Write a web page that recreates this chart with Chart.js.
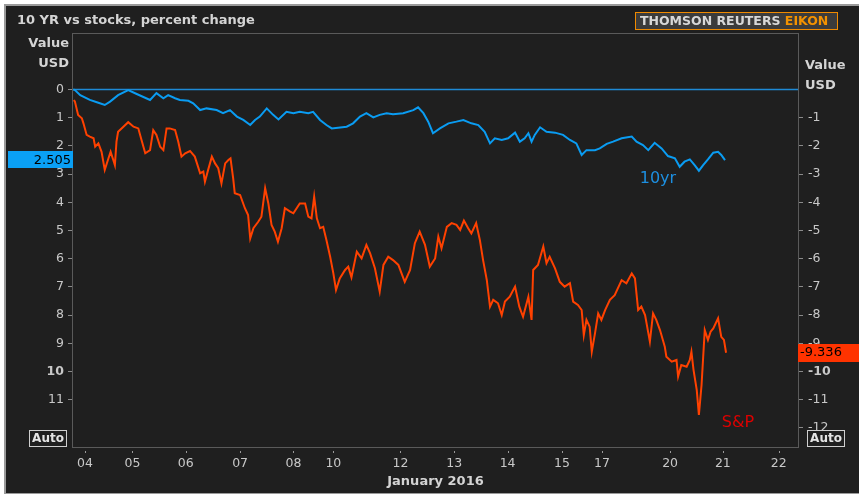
<!DOCTYPE html>
<html>
<head>
<meta charset="utf-8">
<script src="https://cdn.jsdelivr.net/npm/chart.js@4.4.1/dist/chart.umd.min.js"></script>
<style>
  html, body { margin: 0; padding: 0; background: #fff; overflow: hidden; }
  canvas { display: block; }
</style>
</head>
<body>
<canvas id="grafico" width="859" height="496"></canvas>
<script>
// eje x: posicion de cada sesion (en dias de negociacion) y su etiqueta
const dayLabels = ['04','05','06','07','08','10','12','13','14','15','17','20','21','22'];
const dayPos = [0.10, 0.99, 1.99, 3.01, 4.01, 4.76, 6.02, 7.03, 8.03, 9.05, 9.80, 11.08, 12.07, 13.12];

const leftTicks = [0,1,2,3,4,5,6,7,8,9,10,11];
const rightTicks = [-1,-2,-3,-4,-5,-6,-7,-8,-9,-10,-11,-12];

// 10yr (eje izquierdo, invertido)
const tenYrTime = [-0.12,-0.09,0.01,0.19,0.35,0.47,0.57,0.72,0.91,1.07,1.32,1.44,1.57,1.66,1.79,1.88,2.04,2.13,2.26,2.38,
  2.57,2.69,2.82,2.95,3.07,3.20,3.29,3.38,3.51,3.63,3.73,3.88,4.01,4.13,4.29,4.38,4.51,4.63,4.73,5.01,
  5.13,5.26,5.38,5.51,5.63,5.76,5.88,6.07,6.26,6.35,6.45,6.54,6.63,6.76,6.92,7.07,7.20,7.35,7.48,7.60,
  7.70,7.79,7.92,8.04,8.17,8.26,8.35,8.42,8.48,8.54,8.64,8.76,8.92,9.07,9.20,9.32,9.42,9.51,9.67,9.76,
  9.89,10.01,10.17,10.36,10.45,10.57,10.67,10.79,10.92,11.04,11.17,11.26,11.35,11.45,11.54,11.62,11.70,11.79,11.89,11.98,
  12.04,12.11];
const tenYrValues = [0,0.02,0.20,0.37,0.47,0.55,0.43,0.20,0.02,0.16,0.37,0.13,0.31,0.20,0.31,0.37,0.40,0.49,0.73,0.67,
  0.73,0.84,0.73,0.96,1.08,1.26,1.08,0.96,0.67,0.90,1.06,0.79,0.84,0.79,0.84,0.79,1.08,1.26,1.38,1.32,
  1.20,0.96,0.84,0.99,0.90,0.84,0.88,0.84,0.73,0.63,0.84,1.14,1.55,1.38,1.20,1.14,1.08,1.20,1.26,1.50,
  1.91,1.73,1.79,1.73,1.53,1.85,1.73,1.55,1.85,1.61,1.34,1.50,1.53,1.61,1.79,1.91,2.32,2.15,2.15,2.09,
  1.93,1.85,1.73,1.67,1.85,1.97,2.15,1.89,2.09,2.36,2.44,2.74,2.56,2.48,2.68,2.88,2.68,2.48,2.24,2.21,
  2.32,2.505];

// S&P (eje derecho)
const spTime = [-0.11,-0.09,-0.03,0.04,0.07,0.13,0.19,0.26,0.29,0.35,0.41,0.47,0.54,0.58,0.63,0.66,0.69,0.72,0.82,0.91,
  1.01,1.10,1.16,1.23,1.32,1.38,1.44,1.51,1.57,1.63,1.69,1.79,1.85,1.91,1.98,2.07,2.16,2.26,2.32,2.35,
  2.41,2.48,2.54,2.60,2.66,2.73,2.79,2.83,2.88,2.91,3.01,3.10,3.16,3.20,3.26,3.35,3.41,3.48,3.54,3.60,
  3.66,3.72,3.79,3.85,3.95,4.01,4.13,4.23,4.29,4.35,4.40,4.45,4.51,4.57,4.63,4.70,4.76,4.81,4.88,4.98,
  5.04,5.10,5.20,5.29,5.38,5.45,5.54,5.63,5.70,5.79,5.88,5.98,6.10,6.20,6.29,6.38,6.48,6.57,6.67,6.73,
  6.79,6.89,6.98,7.07,7.14,7.21,7.29,7.35,7.44,7.51,7.57,7.64,7.70,7.76,7.85,7.92,7.98,8.07,8.17,8.25,
  8.32,8.42,8.48,8.51,8.60,8.70,8.76,8.82,8.92,9.01,9.10,9.20,9.26,9.35,9.42,9.46,9.51,9.57,9.61,9.67,
  9.73,9.79,9.86,9.95,10.04,10.17,10.26,10.36,10.42,10.48,10.54,10.61,10.70,10.76,10.82,10.89,10.98,11.01,11.11,11.20,
  11.23,11.29,11.39,11.45,11.48,11.52,11.58,11.62,11.67,11.73,11.79,11.84,11.89,11.98,12.04,12.09,12.13];
const spValues = [-0.37,-0.43,-0.90,-1.02,-1.20,-1.61,-1.67,-1.73,-2.03,-1.91,-2.21,-2.85,-2.44,-2.21,-2.50,-2.68,-1.85,-1.50,-1.32,-1.16,
  -1.32,-1.38,-1.79,-2.26,-2.15,-1.44,-1.61,-2.03,-2.15,-1.38,-1.38,-1.44,-1.85,-2.38,-2.26,-2.18,-2.38,-2.97,-2.91,-3.27,
  -2.85,-2.38,-2.62,-2.79,-3.33,-2.62,-2.50,-2.44,-3.15,-3.68,-3.74,-4.21,-4.45,-5.28,-4.92,-4.69,-4.51,-3.50,-4.04,-4.80,
  -5.04,-5.40,-4.92,-4.21,-4.33,-4.39,-4.04,-4.04,-4.51,-4.57,-3.80,-4.57,-4.92,-4.87,-5.34,-5.93,-6.52,-7.11,-6.70,-6.40,
  -6.28,-6.66,-5.75,-5.99,-5.51,-5.81,-6.34,-7.17,-6.22,-5.93,-6.05,-6.22,-6.82,-6.40,-5.45,-5.04,-5.51,-6.28,-5.99,-5.22,
  -5.63,-4.87,-4.74,-4.80,-4.98,-4.65,-4.92,-5.10,-4.74,-5.34,-6.05,-6.76,-7.70,-7.46,-7.58,-8.00,-7.52,-7.35,-6.99,-7.70,
  -8.06,-7.35,-8.17,-6.40,-6.22,-5.57,-6.16,-5.93,-6.34,-6.82,-6.99,-6.87,-7.52,-7.64,-7.82,-8.71,-8.17,-8.41,-9.30,-8.65,
  -7.94,-8.17,-7.82,-7.46,-7.29,-6.76,-6.87,-6.52,-6.70,-7.82,-7.70,-8.00,-8.94,-7.94,-8.17,-8.53,-9.12,-9.48,-9.65,-9.59,
  -10.18,-9.77,-9.83,-9.59,-9.30,-9.95,-10.66,-11.54,-10.48,-8.53,-8.88,-8.59,-8.47,-8.11,-8.77,-8.88,-9.336];

const FONT = '"DejaVu Sans", sans-serif';
const TXT = '#c8c8c8';
const AZUL = '#0a9cf2';
const ROJO = '#ff4100';

Chart.defaults.font.family = FONT;

function caja(ctx, x, y, w, h, fondo, borde) {
    if (fondo) { ctx.fillStyle = fondo; ctx.fillRect(x, y, w, h); }
    if (borde) { ctx.strokeStyle = borde; ctx.lineWidth = 1; ctx.strokeRect(x + 0.5, y + 0.5, w - 1, h - 1); }
}

// fondo, marco, textos y etiquetas estilo Eikon
const marco = {
    id: 'marco',
    beforeDraw(chart) {
        const { ctx, width, height } = chart;
        ctx.save();
        ctx.fillStyle = '#ffffff';
        ctx.fillRect(0, 0, width, height);
        ctx.fillStyle = '#9a9a9a';
        ctx.fillRect(4, 4, width - 4, height - 6);
        ctx.fillStyle = '#1f1f1f';
        ctx.fillRect(6, 6, width - 6, height - 9);
        ctx.restore();
    },
    beforeDatasetsDraw(chart) {
        const { ctx, chartArea: a, scales } = chart;
        const y0 = Math.round(scales.yLeft.getPixelForValue(0)) + 0.5;
        ctx.save();
        ctx.strokeStyle = '#1e8ad6';
        ctx.lineWidth = 1.3;
        ctx.beginPath();
        ctx.moveTo(a.left, y0);
        ctx.lineTo(a.right, y0);
        ctx.stroke();
        ctx.restore();
    },
    afterDraw(chart) {
        const { ctx, chartArea: a, scales } = chart;
        ctx.save();

        // marco del area de trazado
        ctx.strokeStyle = '#5a5a5a';
        ctx.lineWidth = 1;
        ctx.strokeRect(a.left - 0.5, a.top - 0.5, a.right - a.left + 1, a.bottom - a.top + 1);

        // marcas del eje x
        ctx.fillStyle = '#9a9a9a';
        scales.x.ticks.forEach(t => {
            const px = Math.round(scales.x.getPixelForValue(t.value));
            ctx.fillRect(px, a.bottom + 4, 1, 2);
        });

        // titulo
        ctx.textBaseline = 'middle';
        ctx.textAlign = 'left';
        ctx.fillStyle = '#d4d4d4';
        ctx.font = 'bold 13px ' + FONT;
        ctx.fillText('10 YR vs stocks, percent change', 17, 21);

        // logo
        caja(ctx, 635, 12, 203, 18, '#3b3b3b', '#f08a00');
        ctx.font = 'bold 12.5px ' + FONT;
        const parte = 'THOMSON REUTERS ';
        ctx.fillStyle = '#d8d8d8';
        ctx.fillText(parte, 640, 21.5);
        ctx.fillStyle = '#f39200';
        ctx.fillText('EIKON', 640 + ctx.measureText(parte).width, 21.5);

        // unidades de los ejes
        ctx.fillStyle = '#d4d4d4';
        ctx.font = 'bold 13px ' + FONT;
        ctx.textAlign = 'right';
        ctx.fillText('Value', a.left - 4, 44);
        ctx.fillText('USD', a.left - 4, 64);
        ctx.textAlign = 'left';
        ctx.fillText('Value', a.right + 7, 66);
        ctx.fillText('USD', a.right + 7, 86);

        // ultimo valor de cada serie
        ctx.font = '13px ' + FONT;
        const yB = scales.yLeft.getPixelForValue(tenYrValues[tenYrValues.length - 1]);
        caja(ctx, 8, Math.round(yB - 9), a.left - 8, 17, '#0aa0f5');
        ctx.fillStyle = '#000';
        ctx.textAlign = 'right';
        ctx.fillText(tenYrValues[tenYrValues.length - 1].toFixed(3), a.left - 2, yB);

        const yR = scales.yRight.getPixelForValue(spValues[spValues.length - 1]);
        caja(ctx, a.right, Math.round(yR - 9), chart.width - a.right, 18, '#ff3300');
        ctx.fillStyle = '#000';
        ctx.textAlign = 'left';
        ctx.fillText(spValues[spValues.length - 1].toFixed(3), a.right + 2, yR);

        // botones Auto
        ctx.font = 'bold 12px ' + FONT;
        ctx.textAlign = 'center';
        caja(ctx, 29, a.bottom - 17, 38, 17, null, '#cfcfcf');
        ctx.fillStyle = '#e4e4e4';
        ctx.fillText('Auto', 48, a.bottom - 8);
        caja(ctx, a.right + 9, a.bottom - 17, 38, 17, null, '#cfcfcf');
        ctx.fillStyle = '#e4e4e4';
        ctx.fillText('Auto', a.right + 28, a.bottom - 8);

        // nombres de las series
        ctx.font = '16px ' + FONT;
        ctx.textAlign = 'left';
        ctx.fillStyle = '#1d8fe0';
        ctx.fillText('10yr', scales.x.getPixelForValue(10.51), scales.yLeft.getPixelForValue(3.17));
        ctx.fillStyle = '#dd0000';
        ctx.fillText('S&P', scales.x.getPixelForValue(12.05), scales.yRight.getPixelForValue(-11.83));

        ctx.restore();
    }
};

const fuenteTick = (c) => ({
    family: FONT,
    size: 12.5,
    weight: (c && c.tick && Math.abs(c.tick.value) === 10) ? 'bold' : 'normal'
});

const graficoLineas = new Chart(document.querySelector('#grafico'), {
    type: 'line',
    data: {
        datasets: [
            {
                label: '10yr',
                data: tenYrTime.map((t, i) => ({ x: t, y: tenYrValues[i] })),
                yAxisID: 'yLeft',
                borderColor: AZUL,
                borderWidth: 2,
                pointRadius: 0,
                tension: 0
            },
            {
                label: 'S&P',
                data: spTime.map((t, i) => ({ x: t, y: spValues[i] })),
                yAxisID: 'yRight',
                borderColor: ROJO,
                borderWidth: 2,
                pointRadius: 0,
                tension: 0
            }
        ]
    },
    options: {
        responsive: false,
        animation: false,
        layout: { padding: { top: 34, left: 0, right: 0, bottom: 0 } },
        plugins: {
            legend: { display: false },
            tooltip: { enabled: false }
        },
        scales: {
            x: {
                type: 'linear',
                min: -0.126,
                max: 13.48,
                afterFit: s => { s.height = 49; },
                afterBuildTicks: s => { s.ticks = dayPos.map(v => ({ value: v })); },
                grid: { display: false, drawTicks: false },
                border: { display: false },
                ticks: {
                    autoSkip: false,
                    maxRotation: 0,
                    padding: 9,
                    color: TXT,
                    font: { family: FONT, size: 12.5 },
                    callback: (v, i) => dayLabels[i]
                },
                title: {
                    display: true,
                    text: 'January 2016',
                    color: '#d4d4d4',
                    font: { family: FONT, size: 13, weight: 'bold' },
                    padding: { top: 0, bottom: 7 }
                }
            },
            yLeft: {
                position: 'left',
                reverse: true,
                min: -1.968,
                max: 12.677,
                afterFit: s => { s.width = 73; },
                afterBuildTicks: s => { s.ticks = leftTicks.map(v => ({ value: v })); },
                grid: { drawOnChartArea: false, tickLength: 5, tickColor: '#8a8a8a', color: '#8a8a8a' },
                border: { display: false },
                ticks: { padding: 4, color: TXT, font: fuenteTick, callback: v => String(v) }
            },
            yRight: {
                position: 'right',
                min: -12.677,
                max: 1.968,
                afterFit: s => { s.width = 61; },
                afterBuildTicks: s => { s.ticks = rightTicks.map(v => ({ value: v })); },
                grid: { drawOnChartArea: false, tickLength: 5, tickColor: '#8a8a8a', color: '#8a8a8a' },
                border: { display: false },
                ticks: { padding: 5, color: TXT, font: fuenteTick, callback: v => String(v) }
            }
        }
    },
    plugins: [marco]
});
</script>
</body>
</html>
